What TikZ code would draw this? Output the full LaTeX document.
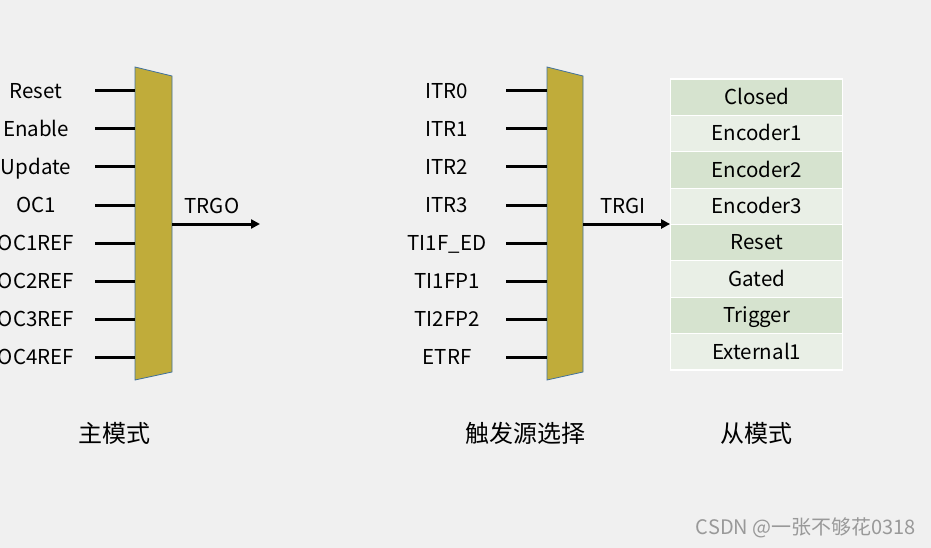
\documentclass[tikz,border=0pt]{standalone}
\usepackage{fontspec}
\setmainfont{Noto Sans CJK SC}
\usetikzlibrary{arrows.meta,calc}
\definecolor{bgray}{HTML}{F0F0F0}
\definecolor{muxfill}{HTML}{C0AC3A}
\definecolor{muxline}{HTML}{41719C}
\definecolor{celldark}{HTML}{D6E3CF}
\definecolor{celllight}{HTML}{E9EFE6}
\tikzset{
  mux/.style={fill=muxfill,draw=muxline,line width=0.8pt},
  wire/.style={line width=3pt},
  sig/.style={font=\fontsize{20.5}{24}\selectfont,inner sep=0pt,text height=14.5pt,text depth=0pt},
  cell/.style={draw=white,line width=1.2pt,minimum width=172pt,minimum height=36.4pt,inner sep=0pt,text height=14.5pt,text depth=0pt,font=\fontsize{20.5}{24}\selectfont},
  modelabel/.style={font=\fontsize{24}{28}\selectfont,inner sep=0pt},
  outarrow/.style={-{Triangle[length=9pt,width=9pt]}}
}
\begin{document}
\begin{tikzpicture}[x=1pt,y=-1pt]
\useasboundingbox[fill=bgray] (0,0) rectangle (931,548);
\coordinate (m1a) at (135,67); \coordinate (m1b) at (172,76);
\coordinate (m1c) at (172,372); \coordinate (m1d) at (135,380);
\draw[mux] (m1a)--(m1b)--(m1c)--(m1d)--cycle;
\foreach \t [count=\i from 0] in {Reset,Enable,Update,OC1,OC1REF,OC2REF,OC3REF,OC4REF}{
  \node[sig] (p\i) at (36,91+38*\i) {\t};
  \coordinate (pa\i) at (95,91+38*\i);
  \draw[wire] (pa\i) -- (pa\i -| m1a);
}
\coordinate (o1) at ($(m1b)!0.5!(m1c)$); \coordinate (o1e) at (260,224);
\draw[wire,outarrow] (o1) -- (o1e);
\node[sig] (trgo) at (212,206) {TRGO};
\coordinate (m2a) at (547,67); \coordinate (m2b) at (583,76);
\coordinate (m2c) at (583,372); \coordinate (m2d) at (547,380);
\draw[mux] (m2a)--(m2b)--(m2c)--(m2d)--cycle;
\foreach \t [count=\i from 0] in {ITR0,ITR1,ITR2,ITR3,TI1F\_ED,TI1FP1,TI2FP2,ETRF}{
  \node[sig] (q\i) at (447,91+38*\i) {\t};
  \coordinate (qa\i) at (506,91+38*\i);
  \draw[wire] (qa\i) -- (qa\i -| m2a);
}
\foreach \t [count=\i from 0] in {Closed,Encoder1,Encoder2,Encoder3,Reset,Gated,Trigger,External1}{
  \ifodd\i \def\cf{celllight}\else \def\cf{celldark}\fi
  \node[cell,fill=\cf] (r\i) at (756.7,97.2+36.375*\i) {\t};
}
\coordinate (o2) at ($(m2b)!0.5!(m2c)$);
\draw[wire,outarrow] (o2) -- (o2 -| r3.south west);
\node[sig] (trgi) at (623,206) {TRGI};
\node[modelabel] (mode1) at (114,433) {主模式};
\node[modelabel] (mode2) at (525,433) {触发源选择};
\node[modelabel] (mode3) at (756,433) {从模式};
\node[font=\fontsize{20}{24}\selectfont,text=black!40,inner sep=0pt] (mark) at (806,528) {CSDN @一张不够花0318};
\end{tikzpicture}
\end{document}
